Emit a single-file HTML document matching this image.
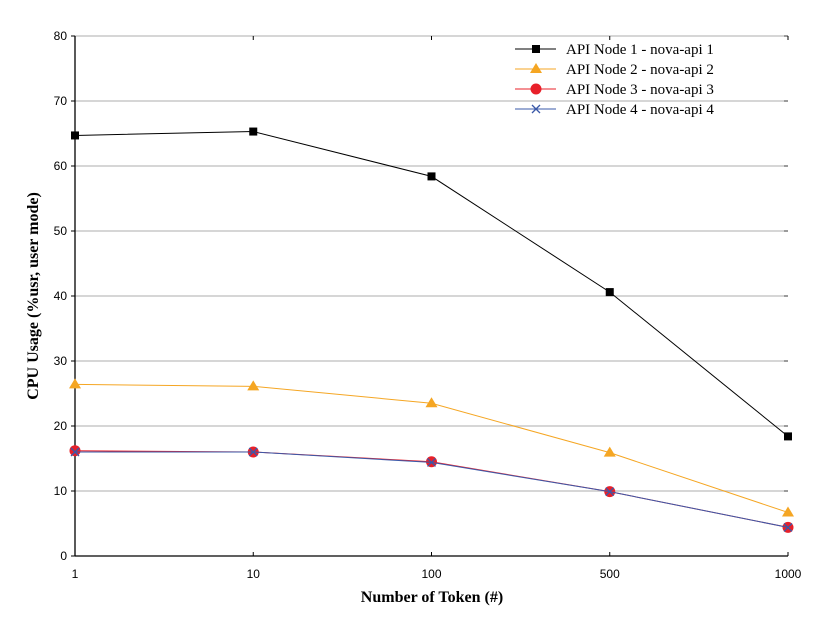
<!DOCTYPE html>
<html><head><meta charset="utf-8"><style>
body{margin:0;background:#fff}
svg text{font-family:"Liberation Sans",sans-serif}
</style></head><body>
<svg width="834" height="621" viewBox="0 0 834 621">
<g id="grid"></g><g id="axes"></g><g id="series"></g><g id="legend"></g>
<text x="432" y="602" text-anchor="middle" style="font-family:'Liberation Serif',serif;font-weight:bold;font-size:16px">Number of Token (#)</text>
<text transform="translate(38,296) rotate(-90)" text-anchor="middle" style="font-family:'Liberation Serif',serif;font-weight:bold;font-size:16px">CPU Usage (%usr, user mode)</text>
</svg>
<script>
const categories=["1","10","100","500","1000"];
const yTicks=[0,10,20,30,40,50,60,70,80];
const node1=[64.7,65.3,58.4,40.6,18.4];
const node2=[26.4,26.1,23.5,15.9,6.7];
const node3=[16.2,16.0,14.5,9.9,4.4];
const node4=[16.0,16.0,14.4,9.9,4.4];
const seriesNames=["API Node 1 - nova-api 1","API Node 2 - nova-api 2","API Node 3 - nova-api 3","API Node 4 - nova-api 4"];
const NS="http://www.w3.org/2000/svg";
const X0=75,X1=788,Y0=556,Y1=36;
const xs=i=>X0+i*(X1-X0)/(categories.length-1);
const ys=v=>Y0-v/80*(Y0-Y1);
function mk(t,a,p){const e=document.createElementNS(NS,t);for(const k in a)e.setAttribute(k,a[k]);p.appendChild(e);return e;}
const grid=document.getElementById('grid'),axes=document.getElementById('axes'),ser=document.getElementById('series'),leg=document.getElementById('legend');
yTicks.forEach(v=>{
 if(v>0){const l=mk('line',{x1:X0,x2:X1,y1:ys(v),y2:ys(v),stroke:'#c8c8c8','stroke-width':1.5},grid);
 
 }
 mk('line',{x1:X0-4,x2:X0,y1:ys(v),y2:ys(v),stroke:'#000'},axes);
 mk('line',{x1:X1-4,x2:X1,y1:ys(v),y2:ys(v),stroke:'#555'},axes);
 const t=mk('text',{x:X0-8,y:ys(v)+4,'text-anchor':'end','font-size':12},axes);t.textContent=v;
 
 
});
categories.forEach((c,i)=>{
 mk('line',{x1:xs(i),x2:xs(i),y1:Y0,y2:Y0-4,stroke:'#000'},axes);
 mk('line',{x1:xs(i),x2:xs(i),y1:Y1,y2:Y1+4,stroke:'#000'},axes);
 const t=mk('text',{x:xs(i),y:Y0+22,'text-anchor':'middle','font-size':12},axes);t.textContent=c;
 
 
});
mk('line',{x1:X0,x2:X0,y1:Y1,y2:Y0,stroke:'#000','stroke-width':1.3},axes);
mk('line',{x1:X0,x2:X1,y1:Y0,y2:Y0,stroke:'#000','stroke-width':1.3},axes);
function marker(type,x,y,c,p){
 let e;
 if(type=='sq')e=mk('rect',{x:x-4,y:y-4,width:8,height:8,fill:c},p);
 else if(type=='tri')e=mk('polygon',{points:`${x},${y-6} ${x-6},${y+4} ${x+6},${y+4}`,fill:c},p);
 else if(type=='circ')e=mk('circle',{cx:x,cy:y,r:5.5,fill:c},p);
 else {e=mk('path',{d:`M${x-4} ${y-4}L${x+4} ${y+4}M${x-4} ${y+4}L${x+4} ${y-4}`,stroke:c,'stroke-width':1.3},p);}
 return e;
}
const all=[node1,node2,node3,node4],cols=['#000','#f5a623','#e8202a','#3a58a8'],mks=['sq','tri','circ','x'],names=['series-node-1','series-node-2','series-node-3','series-node-4'];
all.forEach((d,s)=>{
 const g=mk('g',{},ser);
 
 
 mk('polyline',{points:d.map((v,i)=>xs(i)+','+ys(v)).join(' '),fill:'none',stroke:cols[s],'stroke-width':1},g);
 d.forEach((v,i)=>{const m=marker(mks[s],xs(i),ys(v),cols[s],g);
  
  });
 const ly=49+s*20;
 const lg=mk('g',{},leg);
 
 
 mk('line',{x1:515,x2:556,y1:ly,y2:ly,stroke:cols[s],'stroke-width':1},lg);
 marker(mks[s],536,ly,cols[s],lg);
 const t=mk('text',{x:566,y:ly+5,'font-size':15,style:"font-family:'Liberation Serif',serif"},lg);t.textContent=seriesNames[s];
});
</script>
</body></html>
